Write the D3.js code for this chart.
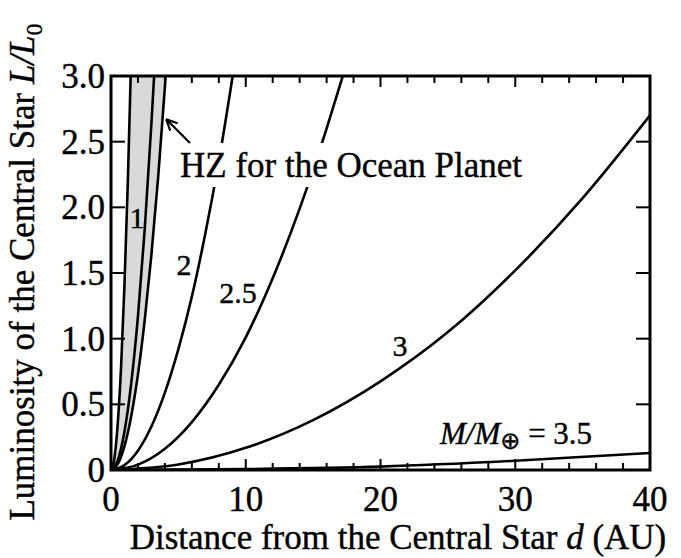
<!DOCTYPE html>
<html><head><meta charset="utf-8">
<script src="https://cdn.jsdelivr.net/npm/d3@7"></script>
<style>
body{margin:0;background:#fff;}
text{font-family:"Liberation Serif","Times New Roman",serif;fill:#000;stroke:#000;stroke-width:0.4px;}
</style></head>
<body><svg id="c" width="681" height="558"></svg>
<script>
// ---- data ----
const hzInner = [[0,0],[0.25,0.088],[0.5,0.352],[0.75,0.79],[1.0,1.41],[1.25,2.2],[1.46,3.0]];
const hzOuter = [[0,0],[0.5,0.045],[1,0.182],[1.5,0.41],[2,0.728],[2.5,1.14],[3,1.64],[3.5,2.23],[4.06,3.0]];
const curve1  = [[0,0],[0.5,0.073],[1,0.293],[1.5,0.659],[2,1.17],[2.5,1.83],[3,2.64],[3.2,3.0]];
const curve2  = [[0,0],[1,0.037],[2,0.147],[3,0.331],[4,0.589],[5,0.92],[6,1.32],[7,1.8],[8,2.35],[9.03,3.0]];
const curve25 = [[0,0],[2,0.041],[4,0.162],[6,0.365],[8,0.649],[10,1.01],[12,1.46],[14,1.99],[16,2.6],[17.2,3.0]];
const curve3  = [[0,0],[5,0.042],[10,0.169],[15,0.38],[20,0.675],[25,1.05],[30,1.52],[35,2.07],[40,2.7]];
const curve35 = [[0,0],[10,0.007],[20,0.026],[30,0.07],[40,0.13]];
const xTickLabels = [0,10,20,30,40];
const yTickLabels = ["0","0.5","1.0","1.5","2.0","2.5","3.0"];
const yTickValues = [0,0.5,1,1.5,2,2.5,3];
const xMinorTicks = d3.range(0,41,2);

const svg = d3.select("#c");
const L = 111, R = 650, T = 76, B = 470;
const x = d3.scaleLinear().domain([0,40]).range([L,R]);
const y = d3.scaleLinear().domain([0,3]).range([B,T]);

svg.append("clipPath").attr("id","cp").append("rect")
  .attr("x",L).attr("y",T).attr("width",R-L).attr("height",B-T);
const g = svg.append("g").attr("clip-path","url(#cp)");

// shaded HZ band
const band = hzInner.concat(hzOuter.slice().reverse());
g.append("path").attr("d", d3.line().x(d=>x(d[0])).y(d=>y(d[1]))(band)+"Z")
  .attr("fill","#d9d9d9").attr("stroke","none");

const line = d3.line().x(d=>x(d[0])).y(d=>y(d[1])).curve(d3.curveMonotoneX);
[hzInner,hzOuter,curve1,curve2,curve25,curve3,curve35].forEach(c=>{
  g.append("path").attr("d",line(c)).attr("fill","none").attr("stroke","#000").attr("stroke-width",2.6);
});

// white box behind the HZ annotation text (masks curves)
svg.append("rect").attr("x",177).attr("y",143).attr("width",350).attr("height",44).attr("fill","#fff");

// axes ticks (inward)
const ax = svg.append("g");
xMinorTicks.forEach(v=>{
  const len = (v%10===0)?11:7;
  ax.append("line").attr("x1",x(v)).attr("x2",x(v)).attr("y1",B).attr("y2",B-len).attr("stroke","#000").attr("stroke-width",2);
  ax.append("line").attr("x1",x(v)).attr("x2",x(v)).attr("y1",T).attr("y2",T+len).attr("stroke","#000").attr("stroke-width",2);
});
yTickValues.forEach(v=>{
  ax.append("line").attr("x1",L).attr("x2",L+14).attr("y1",y(v)).attr("y2",y(v)).attr("stroke","#000").attr("stroke-width",2);
  ax.append("line").attr("x1",R).attr("x2",R-14).attr("y1",y(v)).attr("y2",y(v)).attr("stroke","#000").attr("stroke-width",2);
});
svg.append("rect").attr("x",L).attr("y",T).attr("width",R-L).attr("height",B-T)
  .attr("fill","none").attr("stroke","#000").attr("stroke-width",3);

// tick labels
xTickLabels.forEach(v=>{
  svg.append("text").attr("x",x(v)).attr("y",B+41).attr("text-anchor","middle")
    .attr("font-size",35).text(v);
});
yTickValues.forEach((v,i)=>{
  svg.append("text").attr("x",L-6).attr("y",y(v)+12).attr("text-anchor","end")
    .attr("font-size",35).text(yTickLabels[i]);
});

// axis titles
const xt = svg.append("text").attr("x",398).attr("y",549).attr("text-anchor","middle").attr("font-size",35);
xt.append("tspan").text("Distance from the Central Star  ");
xt.append("tspan").attr("font-style","italic").text("d");
xt.append("tspan").text(" (AU)");

const yt = svg.append("text").attr("transform","translate(34,272) rotate(-90)").attr("text-anchor","middle").attr("font-size",35);
yt.append("tspan").text("Luminosity of the Central Star  ");
yt.append("tspan").attr("font-style","italic").text("L/L");
yt.append("tspan").attr("font-size",24).attr("dy",8).text("0");

// curve labels
const lab = (t,px,py)=>svg.append("text").attr("x",px).attr("y",py).attr("text-anchor","middle").attr("font-size",30).text(t);
lab("1",137,228);
lab("2",184,275);
lab("2.5",238,303);
lab("3",400,356);

// M/M⊕ label
const mt = svg.append("text").attr("x",440).attr("y",444).attr("font-size",31);
mt.append("tspan").attr("font-style","italic").text("M/M");
mt.append("tspan").attr("font-size",24).attr("dy",5).attr("font-family","DejaVu Sans").text("⊕");
mt.append("tspan").attr("dy",-5).text(" = 3.5");

// HZ annotation
svg.append("text").attr("x",180).attr("y",177).attr("font-size",35).text("HZ for the Ocean Planet");
const ax0 = x(5.86), ay0 = y(2.49), ax1 = x(4.1), ay1 = y(2.67);
svg.append("line").attr("x1",ax0).attr("y1",ay0).attr("x2",ax1).attr("y2",ay1).attr("stroke","#000").attr("stroke-width",2.2);
const ang = Math.atan2(ay0-ay1, ax0-ax1);
[0.45,-0.45].forEach(a=>{
  svg.append("line").attr("x1",ax1).attr("y1",ay1)
    .attr("x2",ax1+12*Math.cos(ang+a)).attr("y2",ay1+12*Math.sin(ang+a))
    .attr("stroke","#000").attr("stroke-width",2.2);
});
</script></body></html>
